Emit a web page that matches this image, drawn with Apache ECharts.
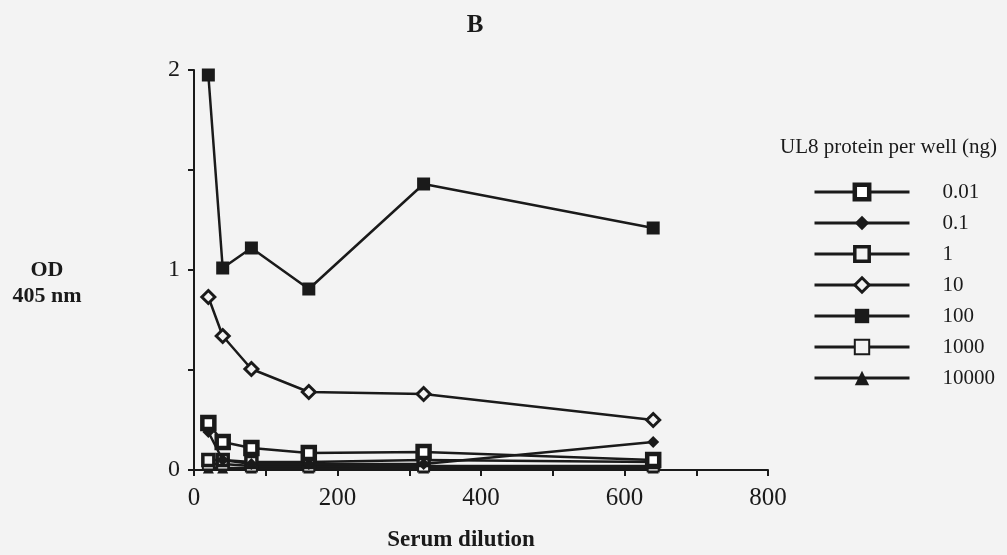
<!DOCTYPE html>
<html>
<head>
<meta charset="utf-8">
<script src="https://cdn.jsdelivr.net/npm/echarts@6/dist/echarts.min.js"></script>
<style>
html,body{margin:0;padding:0;background:#f3f3f3;}
#chart{width:1007px;height:555px;}
</style>
</head>
<body>
<div id="chart"></div>
<script>
// Data
const dilutions = [20, 40, 80, 160, 320, 640];
const seriesNames = ['0.01', '0.1', '1', '10', '100', '1000', '10000'];
const s0_01  = [0.235, 0.14, 0.11, 0.085, 0.09, 0.05];
const s0_1   = [0.19, 0.05, 0.03, 0.03, 0.03, 0.14];
const s1     = [0.05, 0.05, 0.04, 0.04, 0.05, 0.04];
const s10    = [0.865, 0.67, 0.505, 0.39, 0.38, 0.25];
const s100   = [1.975, 1.01, 1.11, 0.905, 1.43, 1.21];
const s1000  = [0.03, 0.03, 0.02, 0.02, 0.02, 0.02];
const s10000 = [0.01, 0.01, 0.01, 0.01, 0.01, 0.01];
const xTicks = [0, 200, 400, 600, 800];
const yTicks = [0, 1, 2];

const serif = '"Liberation Serif", "DejaVu Serif", serif';
const ink = '#1a1a1a';
const bg = '#f3f3f3';

function pts(vals){ return dilutions.map((d,i)=>[d, vals[i]]); }

const styles = [
  {symbol:'rect', size:12, fill:'#ffffff', bw:4.5},
  {symbol:'diamond', size:12, fill:ink, bw:0},
  {symbol:'rect', size:11, fill:bg, bw:3.5},
  {symbol:'diamond', size:13, fill:bg, bw:3},
  {symbol:'rect', size:13, fill:ink, bw:0},
  {symbol:'rect', size:11, fill:bg, bw:2},
  {symbol:'triangle', size:11, fill:ink, bw:0}
];
const allVals = [s0_01, s0_1, s1, s10, s100, s1000, s10000];

const series = allVals.map((vals, i) => ({
  name: seriesNames[i],
  type: 'line',
  data: pts(vals),
  symbol: styles[i].symbol,
  symbolSize: styles[i].size,
  showAllSymbol: true,
  lineStyle: {color: ink, width: 2.5},
  itemStyle: {color: styles[i].fill, borderColor: ink, borderWidth: styles[i].bw},
  z: 10 - i
}));

const legendData = seriesNames.map((n, i) => ({
  name: n,
  itemStyle: {color: styles[i].fill, borderColor: ink, borderWidth: styles[i].bw},
  lineStyle: {color: ink, width: 3}
}));

function label(text, x, y, size, weight, align) {
  return {
    type: 'text', x: x, y: y, silent: true,
    style: {text: text, fill: ink, font: weight + ' ' + size + 'px ' + serif,
            textAlign: align || 'center', textVerticalAlign: 'middle'}
  };
}

const chart = echarts.init(document.getElementById('chart'));
chart.setOption({
  backgroundColor: bg,
  animation: false,
  graphic: [
    label('B', 475, 26, 25, 'bold'),
    label('UL8 protein per well (ng)', 997, 147, 21, 'normal', 'right'),
    label('OD', 47, 270, 22, 'bold'),
    label('405 nm', 47, 296, 22, 'bold'),
    label('Serum dilution', 461, 540, 23, 'bold')
  ],
  legend: {
    orient: 'vertical',
    left: 808,
    top: 176,
    itemWidth: 95,
    itemHeight: 18,
    itemGap: 9,
    data: legendData,
    textStyle: {fontFamily: serif, fontSize: 21, color: ink, lineHeight: 22, padding: [0, 0, 0, 28]}
  },
  grid: {left: 194, right: 239, top: 70, bottom: 85, containLabel: false},
  xAxis: {
    type: 'value', min: 0, max: 800, interval: 100,
    axisLine: {show: true, onZero: false, lineStyle: {color: ink, width: 2}},
    axisTick: {show: true, length: 6, lineStyle: {color: ink, width: 2}},
    splitLine: {show: false},
    axisLabel: {
      margin: 16, color: ink, fontFamily: serif, fontSize: 25,
      formatter: v => xTicks.includes(v) ? String(v) : ''
    }
  },
  yAxis: {
    type: 'value', min: 0, max: 2, interval: 0.5,
    axisLine: {show: true, onZero: false, lineStyle: {color: ink, width: 2}},
    axisTick: {show: true, length: 6, lineStyle: {color: ink, width: 2}},
    splitLine: {show: false},
    axisLabel: {
      margin: 14, color: ink, fontFamily: serif, fontSize: 24,
      formatter: v => yTicks.includes(v) ? String(v) : ''
    }
  },
  series: series
});
</script>
</body>
</html>
